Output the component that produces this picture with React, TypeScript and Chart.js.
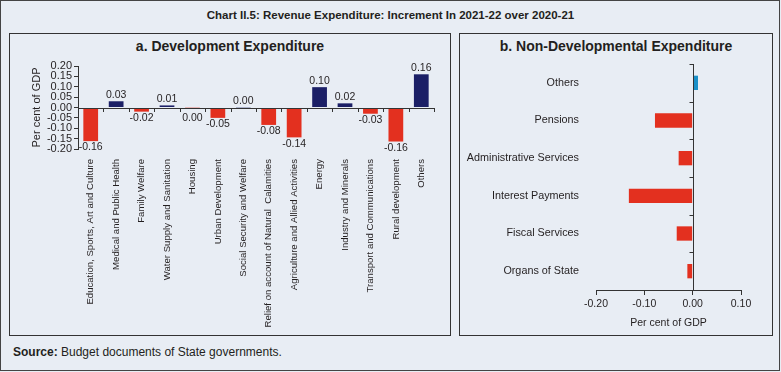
import React, { useEffect, useRef } from 'react';
import { Chart, registerables } from 'chart.js';
Chart.register(...registerables);

const devCategories = [
  'Education, Sports, Art and Culture',
  'Medical and Public Health',
  'Family Welfare',
  'Water Supply and Sanitation',
  'Housing',
  'Urban Development',
  'Social Security and Welfare',
  'Relief on account of Natural  Calamities',
  'Agriculture and Allied Activities',
  'Energy',
  'Industry and Minerals',
  'Transport and Communications',
  'Rural development',
  'Others',
];
const devValues = [-0.162, 0.03, -0.02, 0.01, -0.001, -0.05, 0.001, -0.084, -0.144, 0.098, 0.02, -0.03, -0.164, 0.16];
const devTicks = [0.2, 0.15, 0.1, 0.05, 0, -0.05, -0.1, -0.15, -0.2];

const nonDevCategories = ['Others', 'Pensions', 'Administrative Services', 'Interest Payments', 'Fiscal Services', 'Organs of State'];
const nonDevValues = [0.011, -0.078, -0.029, -0.132, -0.033, -0.011];
const nonDevTicks = [-0.2, -0.1, 0, 0.1];

const RED = '#e3301f';
const NAVY = '#1b1f66';
const LIGHTBLUE = '#1a90c8';
const BG = '#e8edf4';
const TXT = '#231f20';
const FONT = "'Liberation Sans', Arial, sans-serif";

const fmt = (v: number) => (Math.abs(v) < 0.005 ? '0.00' : v.toFixed(2));

function DevChart() {
  const ref = useRef<HTMLCanvasElement | null>(null);
  useEffect(() => {
    const ctx = ref.current!;
    const plugin = {
      id: 'devExtras',
      afterDatasetsDraw(chart: any) {
        const c = chart.ctx;
        const { left, right } = chart.chartArea;
        const y0 = chart.scales.y.getPixelForValue(0);
        c.save();
        c.strokeStyle = '#333';
        c.lineWidth = 1;
        c.beginPath();
        c.moveTo(left, Math.round(y0) + 0.5);
        c.lineTo(right, Math.round(y0) + 0.5);
        const n = devValues.length;
        const w = (right - left) / n;
        for (let i = 0; i <= n; i++) {
          const x = Math.round(left + i * w) + 0.5;
          c.moveTo(x, Math.round(y0));
          c.lineTo(x, Math.round(y0) + 4);
        }
        c.stroke();
        const meta = chart.getDatasetMeta(0);
        c.fillStyle = TXT;
        c.font = `10.5px ${FONT}`;
        c.textAlign = 'center';
        meta.data.forEach((el: any, i: number) => {
          const v = devValues[i];
          if (v >= 0) {
            c.textBaseline = 'bottom';
            c.fillText(fmt(v), el.x, el.y - 1);
          } else {
            c.textBaseline = 'top';
            c.fillText(fmt(v), el.x, Math.max(el.y, y0 + 4) + 1);
          }
        });
        c.restore();
      },
    };
    const chart = new Chart(ctx, {
      type: 'bar',
      data: {
        labels: devCategories,
        datasets: [
          {
            data: devValues,
            backgroundColor: devValues.map((v) => (v >= 0 ? NAVY : RED)),
            categoryPercentage: 1,
            barPercentage: 0.58,
          },
        ],
      },
      options: {
        animation: false,
        responsive: false,
        maintainAspectRatio: false,
        layout: { padding: { top: 10, right: 17, left: 20, bottom: 0 } },
        plugins: { legend: { display: false }, tooltip: { enabled: false } },
        scales: {
          x: {
            grid: { display: false },
            border: { display: false },
            ticks: {
              minRotation: 90,
              maxRotation: 90,
              autoSkip: false,
              color: TXT,
              padding: 2,
              font: { family: FONT, size: 9.6 },
            },
            afterFit(s: any) {
              s.height = 188;
              s.paddingLeft = 0;
              s.paddingRight = 0;
            },
          },
          y: {
            min: -0.2,
            max: 0.2,
            afterBuildTicks(s: any) {
              s.ticks = devTicks.map((v) => ({ value: v }));
            },
            grid: { drawOnChartArea: false, drawTicks: true, tickLength: 4, color: '#333' },
            border: { display: true, color: '#333' },
            ticks: {
              autoSkip: false,
              color: TXT,
              padding: 2,
              font: { family: FONT, size: 11 },
              callback: (v: any) => Number(v).toFixed(2),
            },
            title: {
              display: true,
              text: 'Per cent of GDP',
              color: TXT,
              padding: { top: 0, bottom: 0 },
              font: { family: FONT, size: 11 },
            },
            afterFit(s: any) {
              s.width = 48;
              s.paddingTop = 0;
              s.paddingBottom = 0;
            },
          },
        },
      },
      plugins: [plugin],
    } as any);
    return () => chart.destroy();
  }, []);
  return <canvas ref={ref} width={441} height={281} style={{ position: 'absolute', left: 0, top: 22, width: 441, height: 281 }} />;
}

function NonDevChart() {
  const ref = useRef<HTMLCanvasElement | null>(null);
  useEffect(() => {
    const ctx = ref.current!;
    const plugin = {
      id: 'nonDevExtras',
      afterDatasetsDraw(chart: any) {
        const c = chart.ctx;
        const { top, bottom } = chart.chartArea;
        const x0 = Math.round(chart.scales.x.getPixelForValue(0)) + 0.5;
        c.save();
        c.strokeStyle = '#333';
        c.lineWidth = 1;
        c.beginPath();
        c.moveTo(x0, top);
        c.lineTo(x0, bottom);
        const n = nonDevValues.length;
        const h = (bottom - top) / n;
        for (let i = 0; i < n; i++) {
          const y = Math.round(top + i * h) + 0.5;
          c.moveTo(x0 - 4, y);
          c.lineTo(x0, y);
        }
        c.stroke();
        c.restore();
      },
    };
    const chart = new Chart(ctx, {
      type: 'bar',
      data: {
        labels: nonDevCategories,
        datasets: [
          {
            data: nonDevValues,
            backgroundColor: nonDevValues.map((v) => (v >= 0 ? LIGHTBLUE : RED)),
            categoryPercentage: 1,
            barPercentage: 0.38,
          },
        ],
      },
      options: {
        indexAxis: 'y',
        animation: false,
        responsive: false,
        maintainAspectRatio: false,
        layout: { padding: { top: 8, right: 32, left: 0, bottom: 0 } },
        plugins: { legend: { display: false }, tooltip: { enabled: false } },
        scales: {
          x: {
            min: -0.2,
            max: 0.1,
            afterBuildTicks(s: any) {
              s.ticks = nonDevTicks.map((v) => ({ value: v }));
            },
            grid: { drawOnChartArea: false, drawTicks: true, tickLength: 5, color: '#333' },
            border: { display: true, color: '#333' },
            ticks: {
              autoSkip: false,
              color: TXT,
              padding: 3,
              font: { family: FONT, size: 10.5 },
              callback: (v: any) => Number(v).toFixed(2),
            },
            title: {
              display: true,
              text: 'Per cent of GDP',
              color: TXT,
              padding: { top: 3, bottom: 0 },
              font: { family: FONT, size: 10.5 },
            },
            afterFit(s: any) {
              s.height = 39;
              s.paddingLeft = 0;
              s.paddingRight = 0;
            },
          },
          y: {
            grid: { display: false },
            border: { display: false },
            ticks: {
              color: TXT,
              padding: 9,
              font: { family: FONT, size: 10.8 },
            },
            afterFit(s: any) {
              s.width = 136;
              s.paddingTop = 0;
              s.paddingBottom = 0;
            },
          },
        },
      },
      plugins: [plugin],
    } as any);
    return () => chart.destroy();
  }, []);
  return <canvas ref={ref} width={313} height={273} style={{ position: 'absolute', left: 0, top: 22, width: 313, height: 273 }} />;
}

export default function App() {
  useEffect(() => {
    document.body.style.margin = '0';
  }, []);
  const panel: React.CSSProperties = {
    position: 'absolute',
    top: 33,
    height: 303,
    border: '1px solid #333',
    boxSizing: 'border-box',
  };
  const panelTitle: React.CSSProperties = {
    position: 'absolute',
    left: 0,
    right: 0,
    top: 4,
    textAlign: 'center',
    fontWeight: 'bold',
    fontSize: 14,
    color: TXT,
    fontFamily: FONT,
  };
  return (
    <div
      style={{
        position: 'relative',
        width: 781,
        height: 372,
        background: BG,
        fontFamily: FONT,
        overflow: 'hidden',
      }}
    >
      <div
        style={{
          position: 'absolute',
          left: 0,
          top: 0,
          width: 780,
          height: 371,
          border: '1px solid #444',
          boxSizing: 'border-box',
        }}
      />
      <div
        style={{
          position: 'absolute',
          left: 0,
          right: 0,
          top: 9,
          textAlign: 'center',
          fontWeight: 'bold',
          fontSize: 11.5,
          color: TXT,
        }}
      >
        Chart II.5: Revenue Expenditure: Increment In 2021-22 over 2020-21
      </div>
      <div style={{ ...panel, left: 9, width: 442 }}>
        <div style={panelTitle}>a. Development Expenditure</div>
        <DevChart />
      </div>
      <div style={{ ...panel, left: 459, width: 314 }}>
        <div style={panelTitle}>b. Non-Developmental Expenditure</div>
        <NonDevChart />
      </div>
      <div
        style={{
          position: 'absolute',
          left: 13,
          top: 345,
          fontSize: 12,
          color: TXT,
        }}
      >
        <b>Source:</b> Budget documents of State governments.
      </div>
    </div>
  );
}
